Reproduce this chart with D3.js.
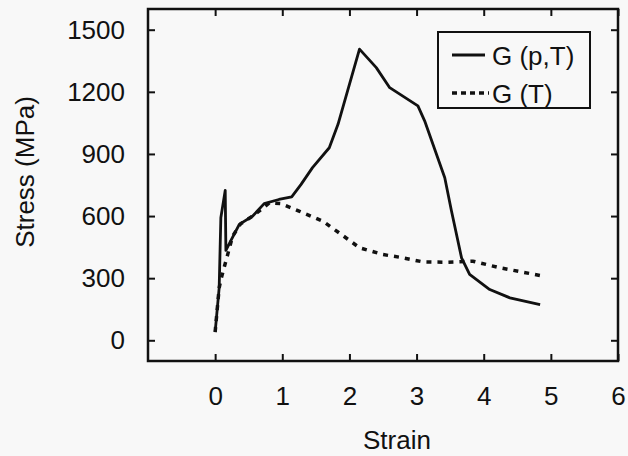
<!DOCTYPE html>
<html>
<head>
<meta charset="utf-8">
<script src="https://cdn.jsdelivr.net/npm/d3@7"></script>
<style>
  body { margin: 0; background: #f8f8f8; }
  svg { display: block; }
  text { font-family: "Liberation Sans", Arial, Helvetica, sans-serif; fill: #111; }
</style>
</head>
<body>
<svg id="chart"></svg>
<script>
// data: strain vs stress (MPa)
const strainPT = [0, 0.06, 0.085, 0.15, 0.16, 0.23, 0.36, 0.56, 0.73, 0.95, 1.14, 1.28, 1.45, 1.70, 1.83, 2.15, 2.40, 2.60, 3.02, 3.12, 3.42, 3.52, 3.67, 3.79, 4.09, 4.39, 4.84];
const stressPT = [40, 253, 592, 724, 434, 479, 560, 600, 660, 680, 693, 753, 834, 930, 1043, 1406, 1317, 1220, 1132, 1060, 785, 624, 398, 318, 245, 205, 172];

const strainT = [0, 0.06, 0.085, 0.18, 0.26, 0.38, 0.56, 0.81, 0.98, 1.25, 1.60, 1.88, 2.15, 2.50, 2.75, 3.09, 3.44, 3.84, 4.24, 4.84];
const stressT = [40, 253, 293, 406, 503, 563, 600, 664, 660, 624, 576, 511, 447, 414, 401, 379, 377, 382, 350, 313];

const xTicks = [0, 1, 2, 3, 4, 5, 6];
const yTicks = [0, 300, 600, 900, 1200, 1500];

const seriesNames = ["G (p,T)", "G (T)"];

// layout
const width = 628;
const height = 456;
const margin = { top: 9, right: 10, bottom: 95, left: 148 };
const innerW = width - margin.left - margin.right;
const innerH = height - margin.top - margin.bottom;

const svg = d3.select("#chart").attr("width", width).attr("height", height);
const g = svg.append("g").attr("transform", `translate(${margin.left},${margin.top})`);

const x = d3.scaleLinear().domain([-1, 6]).range([0, innerW]);
const y = d3.scaleLinear().domain([-100, 1600]).range([innerH, 0]);

// axes, ticks pointing inward
const bottomAxis = d3.axisBottom(x).tickValues(xTicks).tickFormat(d3.format("d"))
    .tickSizeInner(-7).tickSizeOuter(0).tickPadding(26);
const leftAxis = d3.axisLeft(y).tickValues(yTicks).tickFormat(d3.format("d"))
    .tickSizeInner(-7).tickSizeOuter(0).tickPadding(23);
const topAxis = d3.axisTop(x).tickValues(xTicks).tickSizeInner(-7).tickSizeOuter(0).tickFormat("");
const rightAxis = d3.axisRight(y).tickValues(yTicks).tickSizeInner(-7).tickSizeOuter(0).tickFormat("");

function styleAxis(sel) {
    sel.select(".domain").remove();
    sel.selectAll(".tick line").attr("stroke", "#111").attr("stroke-width", 2);
    sel.selectAll(".tick text").style("font-size", "26px").attr("fill", "#111");
}

g.append("g").attr("transform", `translate(0,${innerH})`).call(bottomAxis).call(styleAxis);
g.append("g").call(leftAxis).call(styleAxis);
g.append("g").call(topAxis).call(styleAxis);
g.append("g").attr("transform", `translate(${innerW},0)`).call(rightAxis).call(styleAxis);

// frame
g.append("rect")
    .attr("x", 0).attr("y", 0)
    .attr("width", innerW).attr("height", innerH)
    .attr("fill", "none")
    .attr("stroke", "#111")
    .attr("stroke-width", 2.5);

// curves
const line = d3.line().x(d => x(d[0])).y(d => y(d[1]));
const ptData = strainPT.map((s, i) => [s, stressPT[i]]);
const tData = strainT.map((s, i) => [s, stressT[i]]);

g.append("path")
    .datum(tData)
    .attr("d", line)
    .attr("fill", "none")
    .attr("stroke", "#111")
    .attr("stroke-width", 3.5)
    .attr("stroke-dasharray", "5,6");

g.append("path")
    .datum(ptData)
    .attr("d", line)
    .attr("fill", "none")
    .attr("stroke", "#111")
    .attr("stroke-width", 2.8)
    .attr("stroke-linejoin", "round");

// axis titles
svg.append("text")
    .attr("x", 397)
    .attr("y", 449)
    .attr("text-anchor", "middle")
    .style("font-size", "26px")
    .text("Strain");

svg.append("text")
    .attr("transform", "translate(34,172) rotate(-90)")
    .attr("text-anchor", "middle")
    .style("font-size", "26px")
    .text("Stress (MPa)");

// legend
const legend = svg.append("g");
legend.append("rect")
    .attr("x", 438).attr("y", 32)
    .attr("width", 152).attr("height", 76)
    .attr("fill", "#f8f8f8")
    .attr("stroke", "#111")
    .attr("stroke-width", 2);

const legendRows = [
    { name: seriesNames[0], y: 55, dash: null, w: 2.8, x2: 485 },
    { name: seriesNames[1], y: 93, dash: "5,4", w: 3.5, x2: 489 }
];

legendRows.forEach(r => {
    legend.append("line")
        .attr("x1", 452).attr("x2", r.x2)
        .attr("y1", r.y).attr("y2", r.y)
        .attr("stroke", "#111")
        .attr("stroke-width", r.w)
        .attr("stroke-dasharray", r.dash);
    legend.append("text")
        .attr("x", 492)
        .attr("y", r.y + 10)
        .style("font-size", "26px")
        .text(r.name);
});
</script>
</body>
</html>
